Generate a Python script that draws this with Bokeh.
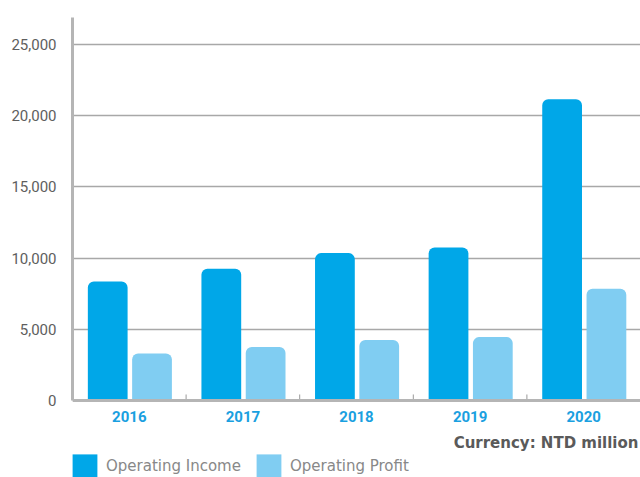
import math
from bokeh.plotting import figure
from bokeh.models import (Range1d, FixedTicker, Legend, LegendItem, Label, Span,
                          NumeralTickFormatter, ColumnDataSource)
from bokeh.core.properties import value
from bokeh.embed import file_html
from bokeh.resources import INLINE

years = ["2016", "2017", "2018", "2019", "2020"]
operating_income = [8350, 9250, 10350, 10750, 21150]
operating_profit = [3300, 3750, 4250, 4450, 7850]
y_ticks = [0, 5000, 10000, 15000, 20000, 25000]

centers = [i + 0.5 for i in range(len(years))]
bounds = [i + 1 for i in range(len(years) - 1)]

src = ColumnDataSource(dict(
    x_inc=[c - 0.19 for c in centers],
    x_pro=[c + 0.20 for c in centers],
    inc=operating_income,
    pro=operating_profit,
))

p = figure(width=640, height=477, output_backend="svg", toolbar_location=None,
           x_range=Range1d(0, len(years)), y_range=Range1d(-5410, 26900),
           min_border_left=72, min_border_right=0, min_border_top=17,
           min_border_bottom=0)
p.outline_line_color = None
p.xaxis.visible = False
p.xgrid.grid_line_color = None
p.ygrid.grid_line_color = "#a8a8a8"
p.ygrid.grid_line_width = 1.5

inc_col = "#00a7e8"
pro_col = "#80cdf2"
r1 = p.vbar(x="x_inc", top="inc", width=0.35, source=src, fill_color=inc_col,
            line_color=None, border_radius=(6, 6, 0, 0))
r2 = p.vbar(x="x_pro", top="pro", width=0.35, source=src, fill_color=pro_col,
            line_color=None, border_radius=(6, 6, 0, 0))

# x axis line, boundary ticks and category labels
p.add_layout(Span(location=0, dimension="width", line_color="#b5b5b5",
                  line_width=3))
p.ray(x=bounds, y=[0] * len(bounds), length=6, length_units="screen",
      angle=math.pi / 2, line_color="#9a9a9a", line_width=1)
p.text(x=centers, y=[0] * len(centers), text=years, y_offset=11,
       text_align="center", text_baseline="top",
       text_font=value("Roboto"), text_font_style="bold",
       text_font_size="15px", text_color="#1aa0e0")

# y axis
ya = p.yaxis[0]
ya.ticker = FixedTicker(ticks=y_ticks)
ya.bounds = (0, 26900)
ya.formatter = NumeralTickFormatter(format="0,0")
ya.major_tick_line_color = None
ya.major_tick_out = 0
ya.major_tick_in = 0
ya.minor_tick_line_color = None
ya.axis_line_color = "#b5b5b5"
ya.axis_line_width = 3
ya.major_label_text_font = "Roboto"
ya.major_label_text_font_size = "15px"
ya.major_label_text_color = "#5e5e5e"
ya.major_label_standoff = 16

cur = Label(x=566, y=35, x_units="screen", y_units="screen",
            text="Currency: NTD million", text_align="right",
            text_baseline="middle", text_font="DejaVu Sans",
            text_font_size="15px", text_font_style="bold", text_color="#5a5a5a")
p.add_layout(cur)

legend = Legend(items=[LegendItem(label="Operating Income", renderers=[r1]),
                       LegendItem(label="Operating Profit", renderers=[r2])],
                location=(-3, -3), orientation="horizontal",
                glyph_width=31, glyph_height=29, label_standoff=6,
                spacing=12, padding=0, margin=0,
                border_line_color=None, background_fill_alpha=0,
                label_text_font="DejaVu Sans", label_text_font_size="15px",
                label_text_color="#888888")
p.add_layout(legend)

open("out.html", "w").write(file_html(p, INLINE))
